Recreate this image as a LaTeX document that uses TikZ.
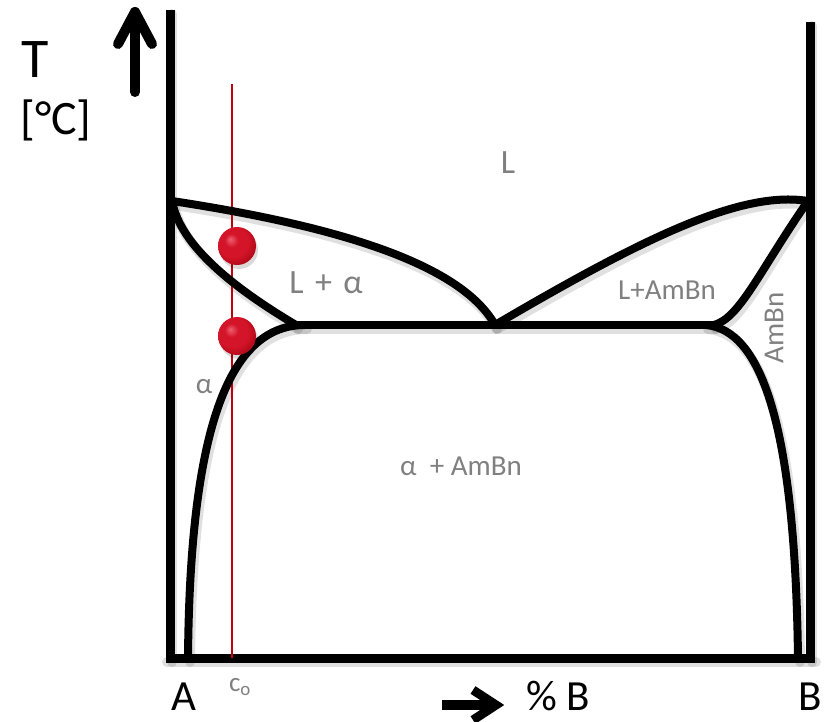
\documentclass[tikz,border=0pt]{standalone}
\usepackage{fontspec}
\setmainfont{Carlito}
\usetikzlibrary{shadings}
\definecolor{lbl}{HTML}{808080}
\definecolor{cline}{HTML}{C00010}
\definecolor{ballhi}{HTML}{F06070}
\definecolor{ballmid}{HTML}{D41428}
\definecolor{balldark}{HTML}{B00818}
\definecolor{balledge}{HTML}{900010}
\pgfdeclareradialshading{redball}{\pgfpoint{-9bp}{9bp}}{%
  color(0bp)=(ballhi);
  color(9bp)=(ballmid);
  color(20bp)=(ballmid);
  color(30bp)=(balldark);
  color(50bp)=(balledge)}
\tikzset{
  phase/.style={line width=8pt, black, line cap=round, line join=round},
  shadowline/.style={line width=10pt, black, opacity=0.12, line cap=round, shift={(2,4)}},
  axisline/.style={line width=9pt, black},
  graylbl/.style={text=lbl, inner sep=0pt},
  axlbl/.style={text=black, inner sep=0pt, anchor=base},
  atom/.style={circle, minimum size=38pt, inner sep=0pt, shading=redball, draw=none},
}
\begin{document}
\begin{tikzpicture}[x=1pt,y=-1pt]
\useasboundingbox (0,0) rectangle (831,722);
% shadows
\draw[shadowline] (172,201) .. controls (330,225) and (460,262) .. (495,325);
\draw[shadowline] (172,201) .. controls (180,245) and (232,287) .. (296,325);
\draw[shadowline] (296,325) -- (714,325);
\draw[shadowline] (305,325) .. controls (232,325) and (190,420) .. (188,658);
\draw[shadowline] (495,325) .. controls (640,240) and (740,190) .. (808,201);
\draw[shadowline] (808,201) .. controls (760,270) and (740,318) .. (714,325);
\draw[shadowline] (706,325) .. controls (760,330) and (795,420) .. (798,658);
\draw[shadowline] (165,658) -- (814,658);
\draw[shadowline] (170,10) -- (170,658);
\draw[shadowline] (810,22) -- (810,658);
% axes
\coordinate (ytop) at (170,10);
\coordinate (rtop) at (810,22);
\draw[axisline] (ytop) -- (170,662);
\draw[axisline] (rtop) -- (810,662);
\draw[axisline] (165.5,658) -- (814.5,658);
% concentration line
\coordinate (c0top) at (232,84);
\coordinate (c0bot) at (232,658);
\draw[cline, line width=1.4pt] (c0top) -- (c0bot);
% key points
\coordinate (meltA) at (172,201);
\coordinate (meltB) at (808,201);
\coordinate (eut) at (495,325);
\coordinate (solA) at (296,325);
\coordinate (solB) at (714,325);
% liquidus / solidus / solvus
\draw[phase] (meltA) .. controls (330,225) and (460,262) .. (eut);
\draw[phase] (meltA) .. controls (180,245) and (232,287) .. (solA);
\draw[phase] (solA) -- (solB);
\draw[phase] (305,325) .. controls (232,325) and (190,420) .. (188,658);
\draw[phase] (eut) .. controls (640,240) and (740,190) .. (meltB);
\draw[phase] (meltB) .. controls (760,270) and (740,318) .. (solB);
\draw[phase] (706,325) .. controls (760,330) and (795,420) .. (798,658);
% atoms
\fill[black, opacity=0.15] (239,250) circle (19);
\fill[black, opacity=0.15] (239,340) circle (19);
\node[atom] (atom1) at (237,246) {};
\node[atom] (atom2) at (237,336) {};
% arrows
\coordinate (upbot) at (135,92);
\coordinate (uptip) at (135,12);
\draw[line width=10pt, line cap=round] (upbot) -- (uptip);
\draw[line width=10pt, line cap=round, line join=round] (118,44) -- (uptip) -- (152,44);
\coordinate (rbeg) at (442,705);
\coordinate (rtip) at (496,705);
\draw[line width=10pt] (rbeg) -- (488,705);
\draw[line width=9pt, line join=miter] (473,690) -- (rtip) -- (473,720);
% labels
\node[text=black, inner sep=0pt, font=\fontsize{56}{60}\selectfont] (T) at (35,60) {T};
\node[text=black, inner sep=0pt, font=\fontsize{48}{52}\selectfont] (unit) at (56,120) {[°C]};
\node[graylbl, font=\fontsize{34}{38}\selectfont] (L) at (508,163) {L};
\node[graylbl, font=\fontsize{34}{38}\selectfont] (La) at (326,283) {L\,\,+\,\,α};
\node[graylbl, font=\fontsize{29}{32}\selectfont] (LAB) at (667,290) {L+AmBn};
\node[graylbl, font=\fontsize{29}{32}\selectfont, rotate=90] (AB) at (774,328) {AmBn};
\node[graylbl, font=\fontsize{29}{32}\selectfont] (alpha) at (204,387) {α};
\node[graylbl, font=\fontsize{29}{32}\selectfont] (aAB) at (461,466) {α\ \ + AmBn};
\node[graylbl, font=\fontsize{27}{30}\selectfont] (c0) at (240,687) {c$_{\mathrm{o}}$};
\node[axlbl, font=\fontsize{43}{48}\selectfont] (A) at (184,710) {A};
\node[axlbl, font=\fontsize{43}{48}\selectfont] (pB) at (558,710) {\% B};
\node[axlbl, font=\fontsize{43}{48}\selectfont] (B) at (810,710) {B};
\end{tikzpicture}
\end{document}
